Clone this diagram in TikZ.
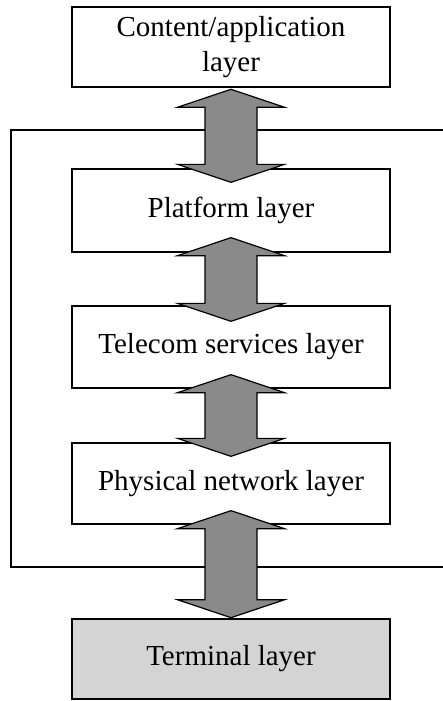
\documentclass[tikz,border=0pt]{standalone}
\usepackage{fontspec}
\setmainfont{Liberation Serif}
\usetikzlibrary{calc}
\definecolor{arrowgray}{HTML}{8A8A8A}
\definecolor{termgray}{HTML}{D4D4D4}
\tikzset{
  layer/.style={rectangle,draw=black,line width=0.65pt,fill=white,minimum width=159pt,minimum height=40.5pt,align=center,inner sep=0pt,font=\fontsize{14.5}{17.5}\selectfont},
  edgelayer/.style={layer,line width=1.3pt},
  fatarrow/.style={draw=black,line width=0.6pt,fill=arrowgray},
  frame/.style={draw=black,line width=0.65pt}
}
% two-headed block arrow between two tip points
\newcommand{\biarrow}[2]{%
  \path[fatarrow] (#1) -- ($(#1)+(53.5,18)$) -- ($(#1)+(26,18)$) -- ($(#2)+(26,-18)$) -- ($(#2)+(53.5,-18)$) -- (#2)
    -- ($(#2)+(-53.5,-18)$) -- ($(#2)+(-26,-18)$) -- ($(#1)+(-26,18)$) -- ($(#1)+(-53.5,18)$) -- cycle;}

\begin{document}
\begin{tikzpicture}[x=0.5pt,y=-0.5pt]
  \useasboundingbox (0,0) rectangle (443,701);

  % frame round the network layers
  \coordinate (ftr) at (450,130);
  \coordinate (ftl) at (11,130);
  \coordinate (fbl) at (11,567);
  \coordinate (fbr) at (450,567);
  \draw[frame] (ftr) -- (ftl) -- (fbl) -- (fbr);

  \node[edgelayer,minimum height=40pt] (content) at (231,47) {Content/application\\layer};
  \node[layer,minimum height=41.5pt] (platform) at (231,210.5) {Platform layer};
  \node[layer,minimum height=41pt] (telecom) at (231,347) {Telecom services layer};
  \node[layer] (physical) at (231,483.5) {Physical network layer};
  \node[edgelayer,fill=termgray,minimum height=40pt] (terminal) at (231,659) {Terminal layer};

  \coordinate (a1) at ($(content.south)+(0,1)$);
  \coordinate (b1) at ($(platform.north)+(0,14)$);
  \coordinate (a2) at ($(platform.south)+(0,-15)$);
  \coordinate (b2) at ($(telecom.north)+(0,16)$);
  \coordinate (a3) at ($(telecom.south)+(0,-14)$);
  \coordinate (b3) at ($(physical.north)+(0,14)$);
  \coordinate (a4) at ($(physical.south)+(0,-14)$);
  \coordinate (b4) at ($(terminal.north)+(0,0)$);

  \biarrow{a1}{b1}
  \biarrow{a2}{b2}
  \biarrow{a3}{b3}
  \biarrow{a4}{b4}
\end{tikzpicture}
\end{document}
